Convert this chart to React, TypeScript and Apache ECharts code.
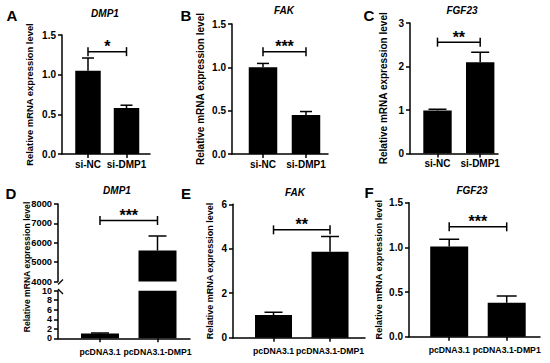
import React, { useEffect, useRef } from "react";
import * as echarts from "echarts";

// ---------- data ----------
const categoriesTop = ["si-NC", "si-DMP1"];
const categoriesBottom = ["pcDNA3.1", "pcDNA3.1-DMP1"];
const panelLetters = ["A", "B", "C", "D", "E", "F"];
const geneTitles = ["DMP1", "FAK", "FGF23", "DMP1", "FAK", "FGF23"];
const yAxisTitle = "Relative mRNA expression level";

const meanA = [1.05, 0.58];
const errA = [0.16, 0.035];
const meanB = [1.0, 0.45];
const errB = [0.045, 0.04];
const meanC = [0.99, 2.1];
const errC = [0.03, 0.23];
const meanD = [1.0, 5600];
const errD = [0.1, 750];
const meanE = [1.02, 3.87];
const errE = [0.12, 0.68];
const meanF = [1.01, 0.38];
const errF = [0.08, 0.075];

const stars = ["*", "***", "**", "***", "**", "***"];
const bracketHeights = [1.29, 1.18, 2.56, 7150, 4.85, 1.23];

// y ranges: [min, max, interval, decimals]
const yRangeA = [0, 1.5, 0.5, 1];
const yRangeB = [0, 1.5, 0.5, 1];
const yRangeC = [0, 3, 1, 0];
const yRangeDTop = [4000, 8000, 1000, 0];
const yRangeDBottom = [0, 10, 2, 0];
const yRangeE = [0, 6, 2, 0];
const yRangeF = [0, 1.5, 0.5, 1];

const FONT = "'Liberation Sans', Arial, Helvetica, sans-serif";
const BLACK = "#000";

type Layout = {
  left: number; top: number; width: number; height: number;
  xMin: number; xMax: number; barWidth: number; capHalf: number;
  nameGap: number; nameSize: number; catSize: number; catMargin: number; tickSize: number;
};

function tickValues(r: number[]) {
  const values: number[] = [];
  for (let v = r[0]; v <= r[1] + 1e-9; v += r[2]) values.push(+v.toFixed(6));
  return values;
}

function yAxisCfg(gridIndex: number, r: number[], L: Layout, extra: any = {}, showLabel = true) {
  const values = tickValues(r);
  return {
    type: "value",
    gridIndex,
    min: r[0],
    max: r[1],
    interval: r[2],
    splitLine: { show: false },
    axisLine: { show: true, lineStyle: { color: BLACK, width: 1.5 } },
    axisTick: { show: true, length: 4, customValues: values, lineStyle: { color: BLACK, width: 1.5 } },
    axisLabel: {
      show: showLabel,
      customValues: values,
      color: BLACK, fontFamily: FONT, fontWeight: "bold", fontSize: L.tickSize,
      margin: 6,
      showMinLabel: true, showMaxLabel: true, hideOverlap: false,
      formatter: (v: number) => v.toFixed(r[3]),
    },
    ...extra,
  };
}

// tick labels drawn through the axis scale (used for the short lower segment of panel D)
function tickLabelSeries(axisIndex: number, r: number[], L: Layout) {
  return {
    type: "custom",
    xAxisIndex: axisIndex,
    yAxisIndex: axisIndex,
    clip: false,
    silent: true,
    data: tickValues(r).map((v) => [L.xMin, v]),
    z: 5,
    renderItem: (_p: any, api: any) => {
      const p = api.coord([api.value(0), api.value(1)]);
      return {
        type: "text",
        x: p[0] - 6,
        y: p[1],
        style: {
          text: Number(api.value(1)).toFixed(r[3]), fill: BLACK,
          font: `bold ${L.tickSize}px ${FONT}`, align: "right", verticalAlign: "middle",
        },
      };
    },
  };
}

function xAxisCfg(gridIndex: number, L: Layout, cats: string[], showLabels: boolean, showLine: boolean) {
  const positions = cats.map((_, i) => i + 1);
  return {
    type: "value",
    gridIndex,
    min: L.xMin,
    max: L.xMax,
    splitLine: { show: false },
    axisLine: { show: showLine, onZero: false, lineStyle: { color: BLACK, width: 1.5 } },
    axisTick: { show: showLabels, length: 4, customValues: positions, lineStyle: { color: BLACK, width: 1.5 } },
    axisLabel: {
      show: showLabels,
      customValues: positions,
      color: BLACK, fontFamily: FONT, fontWeight: "bold", fontSize: L.catSize, margin: L.catMargin,
      formatter: (v: number) => cats[Math.round(v) - 1] ?? "",
    },
  };
}

function barSeries(axisIndex: number, L: Layout, mean: number[]) {
  return {
    type: "bar",
    xAxisIndex: axisIndex,
    yAxisIndex: axisIndex,
    barWidth: L.barWidth,
    clip: true,
    itemStyle: { color: BLACK },
    data: mean.map((m, i) => [i + 1, m]),
    z: 2,
  };
}

function errorSeries(axisIndex: number, L: Layout, mean: number[], err: number[], lo = -Infinity, hi = Infinity) {
  const pts = mean
    .map((m, i) => [i + 1, m, m + err[i]])
    .filter((p) => p[2] >= lo && p[2] <= hi);
  return {
    type: "custom",
    xAxisIndex: axisIndex,
    yAxisIndex: axisIndex,
    clip: true,
    data: pts,
    z: 3,
    renderItem: (_p: any, api: any) => {
      const x = api.value(0);
      const a = api.coord([x, api.value(1)]);
      const b = api.coord([x, api.value(2)]);
      const st = { stroke: BLACK, lineWidth: 1.5 };
      return {
        type: "group",
        children: [
          { type: "line", shape: { x1: a[0], y1: a[1], x2: b[0], y2: b[1] }, style: st },
          { type: "line", shape: { x1: b[0] - L.capHalf, y1: b[1], x2: b[0] + L.capHalf, y2: b[1] }, style: st },
        ],
      };
    },
  };
}

function bracketSeries(axisIndex: number, idx: number) {
  return {
    type: "custom",
    xAxisIndex: axisIndex,
    yAxisIndex: axisIndex,
    data: [[1, 2, bracketHeights[idx]]],
    z: 4,
    renderItem: (_p: any, api: any) => {
      const a = api.coord([api.value(0), api.value(2)]);
      const b = api.coord([api.value(1), api.value(2)]);
      const st = { stroke: BLACK, lineWidth: 1.5 };
      const t = 4.5;
      return {
        type: "group",
        children: [
          { type: "line", shape: { x1: a[0], y1: a[1], x2: b[0], y2: b[1] }, style: st },
          { type: "line", shape: { x1: a[0], y1: a[1] - t, x2: a[0], y2: a[1] + t }, style: st },
          { type: "line", shape: { x1: b[0], y1: b[1] - t, x2: b[0], y2: b[1] + t }, style: st },
          {
            type: "text",
            x: (a[0] + b[0]) / 2,
            y: a[1] - 5,
            style: {
              text: stars[idx], fill: BLACK, font: `bold 16px ${FONT}`,
              align: "center", verticalAlign: "middle",
            },
          },
        ],
      };
    },
  };
}

const LA: Layout = { left: 62, top: 35, width: 88, height: 119, xMin: 0.325, xMax: 2.61, barWidth: 25.5, capHalf: 6, nameGap: 28, nameSize: 9.4, catSize: 10, catMargin: 5, tickSize: 10 };
const LB: Layout = { left: 232, top: 24, width: 96, height: 130, xMin: 0.279, xMax: 2.512, barWidth: 28.5, capHalf: 6, nameGap: 27, nameSize: 10, catSize: 10, catMargin: 5, tickSize: 10 };
const LC: Layout = { left: 410, top: 23, width: 88, height: 130.5, xMin: 0.356, xMax: 2.417, barWidth: 28.4, capHalf: 9, nameGap: 22, nameSize: 10, catSize: 10, catMargin: 5, tickSize: 10 };
const LDt: Layout = { left: 58, top: 204, width: 132, height: 77.5, xMin: 0.27, xMax: 2.565, barWidth: 38, capHalf: 9, nameGap: 0, nameSize: 8.6, catSize: 8.7, catMargin: 9, tickSize: 9.3 };
const LDb: Layout = { ...LDt, top: 290.7, height: 47.6, tickSize: 9 };
const LE: Layout = { left: 233, top: 204.3, width: 132, height: 133.4, xMin: 0.283, xMax: 2.619, barWidth: 37, capHalf: 9, nameGap: 19, nameSize: 9, catSize: 8.7, catMargin: 9, tickSize: 10 };
const LF: Layout = { left: 409, top: 202.7, width: 131, height: 134, xMin: 0.301, xMax: 2.579, barWidth: 38, capHalf: 10, nameGap: 26, nameSize: 9.2, catSize: 8.7, catMargin: 9, tickSize: 10 };

function nameCfg(L: Layout) {
  return {
    name: yAxisTitle,
    nameLocation: "middle",
    nameGap: L.nameGap,
    nameMoveOverlap: false,
    nameTextStyle: { color: BLACK, fontFamily: FONT, fontWeight: "bold", fontSize: L.nameSize },
  };
}

function buildOption() {
  const layouts = [LA, LB, LC, LDt, LDb, LE, LF];
  const grids = layouts.map((L) => ({ left: L.left, top: L.top, width: L.width, height: L.height, containLabel: false }));
  const xAxes = [
    xAxisCfg(0, LA, categoriesTop, true, true),
    xAxisCfg(1, LB, categoriesTop, true, true),
    xAxisCfg(2, LC, categoriesTop, true, true),
    xAxisCfg(3, LDt, categoriesBottom, false, false),
    xAxisCfg(4, LDb, categoriesBottom, true, true),
    xAxisCfg(5, LE, categoriesBottom, true, true),
    xAxisCfg(6, LF, categoriesBottom, true, true),
  ];
  const yAxes = [
    yAxisCfg(0, yRangeA, LA, nameCfg(LA)),
    yAxisCfg(1, yRangeB, LB, nameCfg(LB)),
    yAxisCfg(2, yRangeC, LC, nameCfg(LC)),
    yAxisCfg(3, yRangeDTop, LDt),
    yAxisCfg(4, yRangeDBottom, LDb, {}, false),
    yAxisCfg(5, yRangeE, LE, nameCfg(LE)),
    yAxisCfg(6, yRangeF, LF, nameCfg(LF)),
  ];
  const series: any[] = [
    barSeries(0, LA, meanA), errorSeries(0, LA, meanA, errA), bracketSeries(0, 0),
    barSeries(1, LB, meanB), errorSeries(1, LB, meanB, errB), bracketSeries(1, 1),
    barSeries(2, LC, meanC), errorSeries(2, LC, meanC, errC), bracketSeries(2, 2),
    barSeries(3, LDt, meanD), errorSeries(3, LDt, meanD, errD, yRangeDTop[0], yRangeDTop[1]), bracketSeries(3, 3),
    barSeries(4, LDb, meanD), errorSeries(4, LDb, meanD, errD, yRangeDBottom[0], yRangeDBottom[1]),
    tickLabelSeries(4, yRangeDBottom, LDb),
    barSeries(5, LE, meanE), errorSeries(5, LE, meanE, errE), bracketSeries(5, 4),
    barSeries(6, LF, meanF), errorSeries(6, LF, meanF, errF), bracketSeries(6, 5),
  ];

  const letterPos = [[12, 15], [186, 15], [369, 15], [11, 193], [186, 193], [369, 192]];
  const titlePos = [[105, 13], [284, 10], [462, 10], [117, 190], [295, 192], [472, 190]];
  const graphics: any[] = [];
  panelLetters.forEach((l, i) => {
    graphics.push({
      type: "text", x: letterPos[i][0], y: letterPos[i][1],
      style: { text: l, fill: BLACK, font: `bold 15px ${FONT}`, align: "center", verticalAlign: "middle" },
    });
  });
  geneTitles.forEach((t, i) => {
    graphics.push({
      type: "text", x: titlePos[i][0], y: titlePos[i][1],
      style: { text: t, fill: BLACK, font: `italic bold 10px ${FONT}`, align: "center", verticalAlign: "middle" },
    });
  });
  // panel D y-axis title (spans broken axis)
  graphics.push({
    type: "text", x: 26.5, y: 267, rotation: Math.PI / 2,
    style: { text: yAxisTitle, fill: BLACK, font: `bold ${LDt.nameSize}px ${FONT}`, align: "center", verticalAlign: "middle" },
  });
  // axis break marks in panel D
  const br = { stroke: BLACK, lineWidth: 1.3 };
  graphics.push({ type: "line", shape: { x1: 58, y1: 284.5, x2: 63, y2: 279.5 }, style: br });
  graphics.push({ type: "line", shape: { x1: 58, y1: 289, x2: 63, y2: 294 }, style: br });

  return {
    animation: false,
    backgroundColor: "#fff",
    textStyle: { fontFamily: FONT },
    grid: grids,
    xAxis: xAxes,
    yAxis: yAxes,
    series,
    graphic: graphics,
  };
}

export default function App() {
  const ref = useRef<HTMLDivElement>(null);
  useEffect(() => {
    if (!ref.current) return;
    const chart = echarts.init(ref.current, undefined, { renderer: "svg" });
    chart.setOption(buildOption() as any);
    return () => chart.dispose();
  }, []);
  return (
    <div
      ref={ref}
      style={{ position: "absolute", left: 0, top: 0, width: 550, height: 363, background: "#fff" }}
    />
  );
}
